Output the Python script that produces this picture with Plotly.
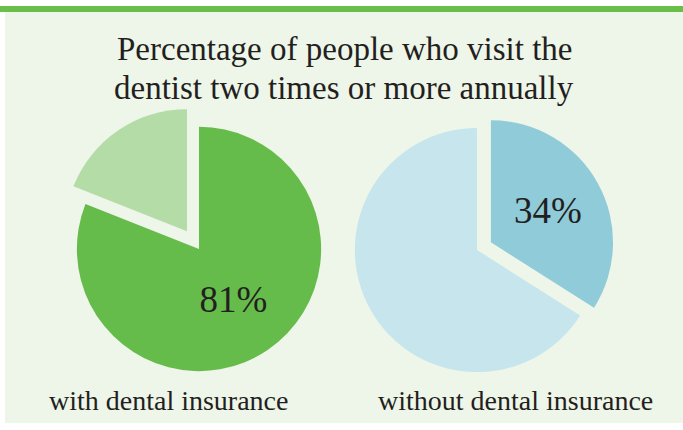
import plotly.graph_objects as go

W, H = 683, 430

title_lines = ["Percentage of people who visit the", "dentist two times or more annually"]
groups = ["with dental insurance", "without dental insurance"]
with_values = [81, 19]          # visit 2+ times, others
without_values = [34, 66]       # visit 2+ times, others
with_colors = ["#66bc4b", "#b3dca6"]
without_colors = ["#90cbd9", "#c7e5ec"]

FONT = "Liberation Serif, serif"
TXT = "#231f20"


def px_x(x):
    return x / W


def px_y(y):
    return 1 - y / H


fig = go.Figure()

fig.add_trace(go.Pie(
    values=with_values,
    labels=["yes", "no"],
    sort=False,
    direction="clockwise",
    rotation=0,
    pull=[0, 0.175],
    marker=dict(colors=with_colors, line=dict(width=0)),
    texttemplate=["%{value}%", ""],
    textposition="inside",
    insidetextorientation="horizontal",
    textfont=dict(family=FONT, size=37, color=TXT),
    hoverinfo="skip",
    showlegend=False,
    domain=dict(x=[px_x(55.5), px_x(342.5)], y=[px_y(392.5), px_y(105.5)]),
))

fig.add_trace(go.Pie(
    values=without_values,
    labels=["yes", "no"],
    sort=False,
    direction="clockwise",
    rotation=0,
    pull=[0.13, 0],
    marker=dict(colors=without_colors, line=dict(width=0)),
    texttemplate=["%{value}%", ""],
    textposition="inside",
    insidetextorientation="horizontal",
    textfont=dict(family=FONT, size=37, color=TXT),
    hoverinfo="skip",
    showlegend=False,
    domain=dict(x=[px_x(339), px_x(615)], y=[px_y(388), px_y(112)]),
))

shapes = [
    dict(type="rect", xref="paper", yref="paper", x0=px_x(5), x1=1, y0=px_y(423), y1=px_y(12),
         fillcolor="#eef5e9", line=dict(width=0), layer="below"),
    dict(type="rect", xref="paper", yref="paper", x0=0, x1=1, y0=px_y(12), y1=px_y(6),
         fillcolor="#6abf4b", line=dict(width=0), layer="below"),
]

annotations = []
for line, base in zip(title_lines, [69, 108]):
    annotations.append(dict(text=line, x=px_x(344), y=px_y(base), xref="paper", yref="paper",
                            xanchor="center", yanchor="bottom", showarrow=False,
                            font=dict(family=FONT, size=33, color=TXT)))
for g, cx in zip(groups, [168, 515]):
    annotations.append(dict(text=g, x=px_x(cx), y=px_y(418), xref="paper", yref="paper",
                            xanchor="center", yanchor="bottom", showarrow=False,
                            font=dict(family=FONT, size=28, color=TXT)))

fig.update_layout(
    width=W, height=H,
    margin=dict(l=0, r=0, t=0, b=0),
    paper_bgcolor="white",
    plot_bgcolor="white",
    shapes=shapes,
    annotations=annotations,
)

fig.write_html("out.html", config={"displayModeBar": False},
               post_script="document.body.style.margin='0';")
